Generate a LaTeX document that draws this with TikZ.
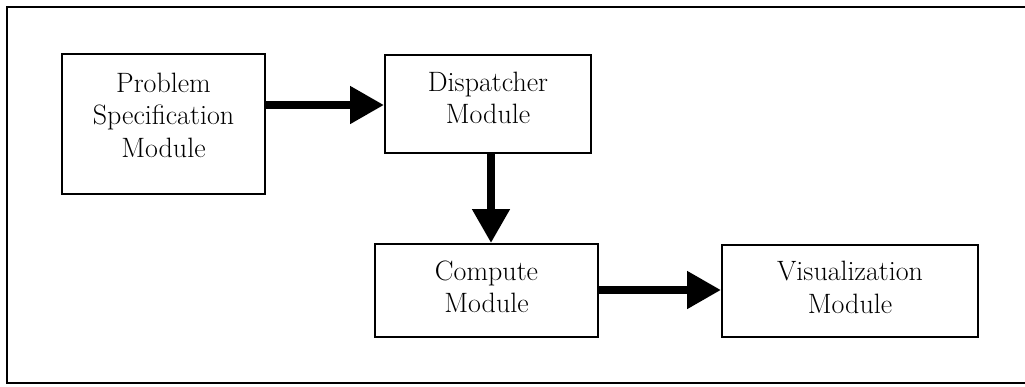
\documentclass[tikz,border=0pt]{standalone}
\usepackage{fontspec}
\usetikzlibrary{arrows.meta}
\begin{document}
\begin{tikzpicture}[x=1pt,y=-1pt,
  modbox/.style={draw,line width=2pt,inner sep=0pt},
  modtext/.style={inner sep=0pt,align=center,font=\fontsize{28}{32.5}\selectfont},
  flow/.style={line width=8pt,-{Triangle[length=34pt,width=36pt]}},
  frameline/.style={line width=2.2pt}]
\useasboundingbox (0,0) rectangle (1025,386);
\coordinate (fr1) at (1030,7);
\coordinate (fr2) at (7,7);
\coordinate (fr3) at (7,383);
\coordinate (fr4) at (1030,383);
\draw[frameline] (fr1) -- (fr2) -- (fr3) -- (fr4);
\node[modbox,minimum width=203pt,minimum height=140pt] (psm) at (163.5,124) {};
\node[modbox,minimum width=206pt,minimum height=98pt] (dm) at (488,104) {};
\node[modbox,minimum width=223pt,minimum height=93pt] (cm) at (486.5,290.5) {};
\node[modbox,minimum width=256pt,minimum height=92pt] (vm) at (850,291) {};
\node[modtext] (psmt) at ([yshift=9pt]psm.center) {Problem\\Specification\\Module};
\node[modtext] (dmt) at ([yshift=6pt]dm.center) {Dispatcher\\Module};
\node[modtext] (cmt) at ([yshift=3.5pt]cm.center) {Compute\\Module};
\node[modtext] (vmt) at ([yshift=3.5pt]vm.center) {Visualization\\Module};
\draw[flow] (psm.east |- 0,105) -- (dm.west |- 0,105);
\draw[flow] (dm.south -| 491,0) -- (cm.north -| 491,0);
\draw[flow] (cm.east |- 0,290) -- (vm.west |- 0,290);
\end{tikzpicture}
\end{document}
